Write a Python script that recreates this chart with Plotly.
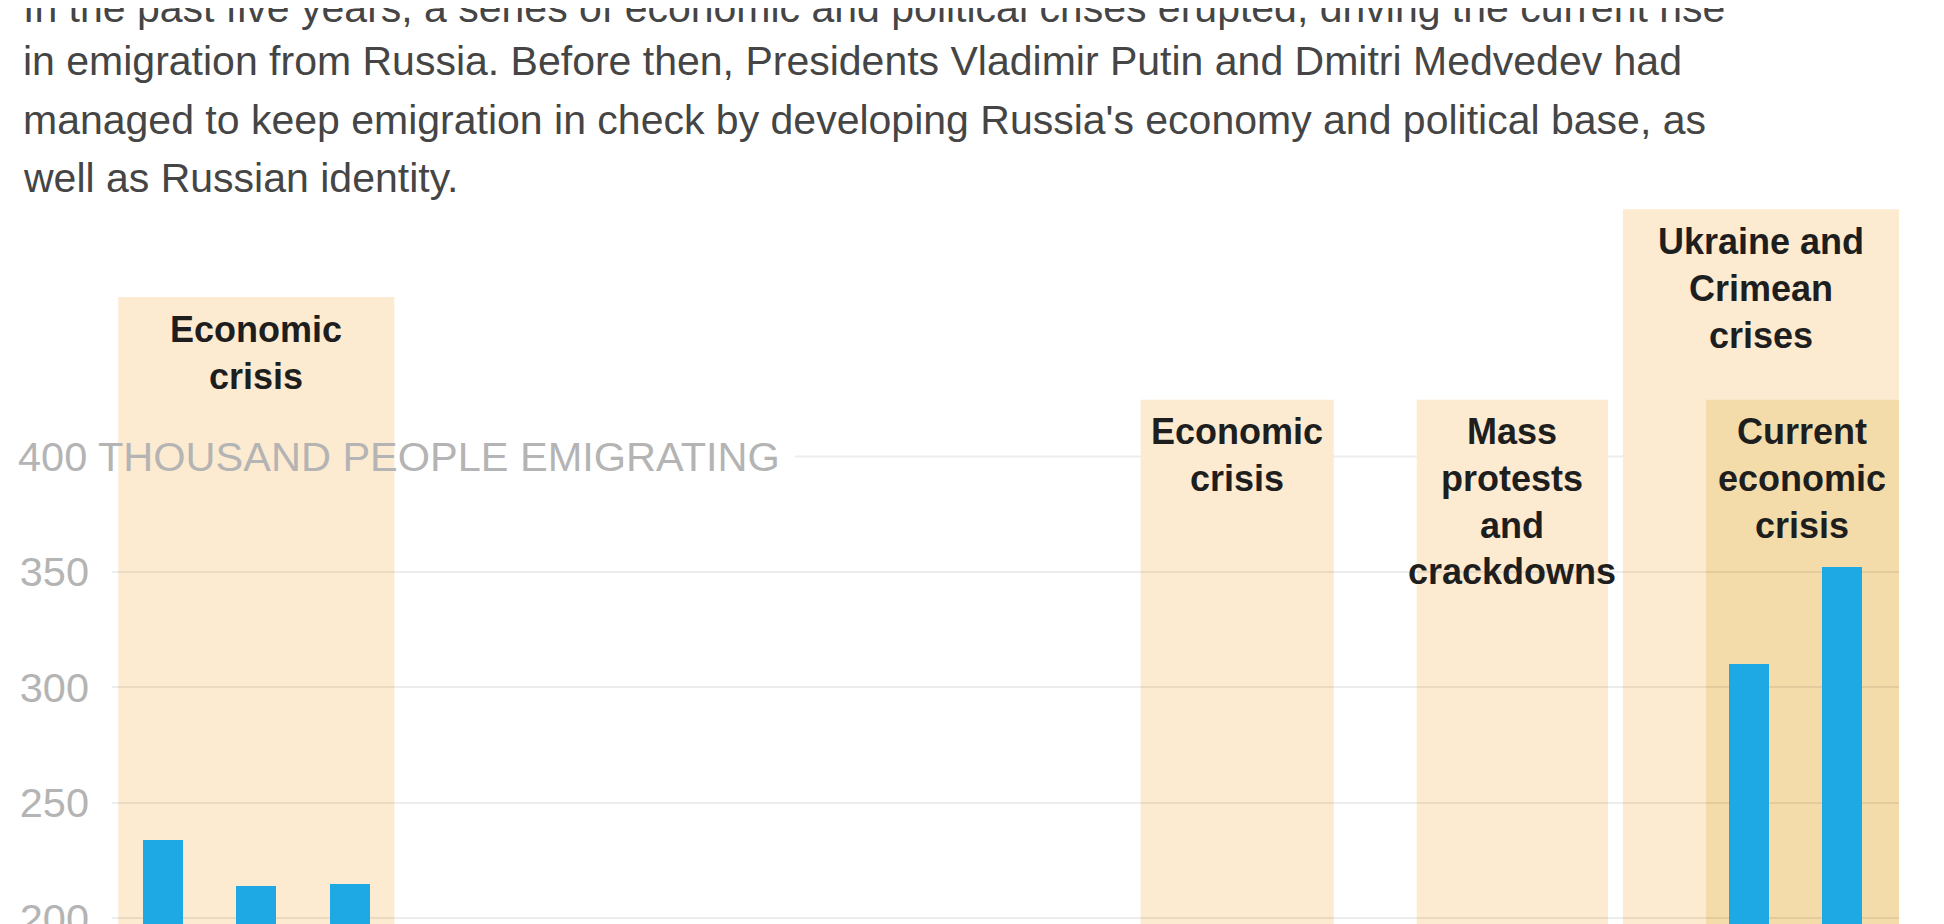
import plotly.graph_objects as go

# Emigration from Russia, thousand people per year
years = list(range(1997, 2016))
emigrants = [234, 214, 215, 146, 121, 107, 94, 80, 70, 54, 47, 40, 32, 34, 37, 123, 186, 310, 352]

# Crisis periods (start, end as fractional year positions), label and top level
band_labels = ['Economic<br>crisis', 'Economic<br>crisis', 'Mass<br>protests<br>and<br>crackdowns',
               'Ukraine and<br>Crimean<br>crises', 'Current<br>economic<br>crisis']
band_starts = [1996.52, 2007.48, 2010.44, 2012.65, 2013.54]
band_ends = [1999.48, 2009.55, 2012.49, 2015.61, 2015.61]
band_tops = [469, 424.5, 424.5, 507, 424.5]

y_ticks = [200, 250, 300, 350]

intro_lines = [
    'In the past five years, a series of economic and political crises erupted, driving the current rise',
    'in emigration from Russia. Before then, Presidents Vladimir Putin and Dmitri Medvedev had',
    "managed to keep emigration in check by developing Russia's economy and political base, as",
    'well as Russian identity.',
]

FONT = 'Liberation Sans, Arial, sans-serif'
band_colors = ['#fcebd0', '#fcebd0', '#fcebd0', '#fcebd0', '#f4dcaa']
grid_color = 'rgba(0,0,0,0.07)'

fig = go.Figure()
fig.add_trace(go.Bar(x=years, y=emigrants, width=0.43,
                     marker=dict(color='#1ea8e4', line=dict(width=0)),
                     hoverinfo='skip'))

shapes = []
# the 400 line only runs to the right of its long label
shapes.append(dict(type='line', xref='paper', yref='y', x0=0.382, x1=1, y0=400, y1=400,
                   line=dict(color=grid_color, width=2), layer='below'))
for x0, x1, top, col in zip(band_starts, band_ends, band_tops, band_colors):
    shapes.append(dict(type='rect', xref='x', yref='y', x0=x0, x1=x1, y0=0, y1=top,
                       fillcolor=col, line=dict(width=0), layer='below'))

annotations = []
for label, x0, x1, top in zip(band_labels, band_starts, band_ends, band_tops):
    annotations.append(dict(x=(x0 + x1) / 2, y=top, xref='x', yref='y', text=label,
                            showarrow=False, xanchor='center', yanchor='top', yshift=-9.5,
                            font=dict(family=FONT, size=36, color='#1e1e1e', weight='bold')))

annotations.append(dict(x=0, y=400, xref='paper', yref='y', text='400 THOUSAND PEOPLE EMIGRATING',
                        showarrow=False, xanchor='left', yanchor='middle', xshift=-96,
                        font=dict(family=FONT, size=41.5, color='#b4b4b4')))

line_shifts = [192, 139, 80, 22]
for line, shift in zip(intro_lines, line_shifts):
    annotations.append(dict(x=0, y=1, xref='paper', yref='paper', text=line,
                            showarrow=False, xanchor='left', yanchor='middle',
                            xshift=-91, yshift=shift,
                            font=dict(family=FONT, size=41, color='#454545')))

# the page adds an 8 px body margin, so margins are set 8 px short on the left and top
fig.update_layout(
    width=1944, height=924,
    margin=dict(l=104, r=53, t=192, b=8),
    paper_bgcolor='white', plot_bgcolor='white',
    showlegend=False,
    bargap=0,
    shapes=shapes,
    annotations=annotations,
    xaxis=dict(range=[1996.453, 2015.61], showgrid=False, zeroline=False,
               showticklabels=False, ticks='', automargin=False),
    yaxis=dict(range=[197.6, 511.0], tickvals=y_ticks, ticktext=[str(v) for v in y_ticks],
               showgrid=True, gridcolor=grid_color, gridwidth=2, zeroline=False,
               ticks='', ticklabelstandoff=22, automargin=False, ticklabeloverflow='allow',
               tickfont=dict(family=FONT, size=41.5, color='#b4b4b4')),
)

fig.write_html('out.html')
